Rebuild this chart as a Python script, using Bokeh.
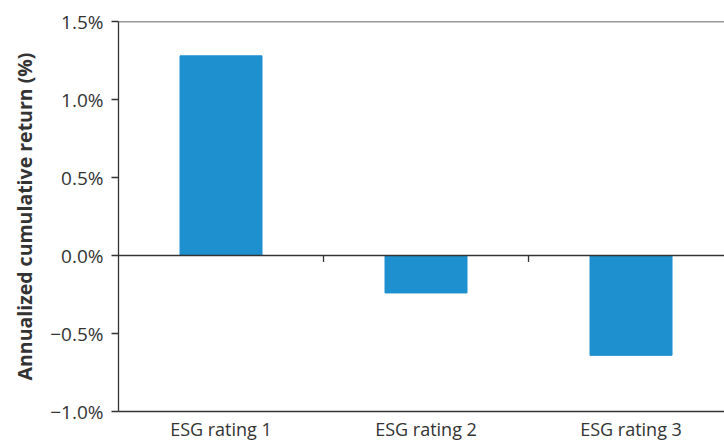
from bokeh.plotting import figure
from bokeh.models import ColumnDataSource, FixedTicker, Span
from bokeh.embed import file_html
from bokeh.resources import INLINE

categories = ["ESG rating 1", "ESG rating 2", "ESG rating 3"]
returns = [1.28, -0.24, -0.64]
y_ticks = [-1.0, -0.5, 0.0, 0.5, 1.0, 1.5]
y_tick_labels = ["\u22121.0%", "\u22120.5%", "0.0%", "0.5%", "1.0%", "1.5%"]

centers = [i + 0.5 for i in range(len(categories))]
boundaries = [i + 1 for i in range(len(categories) - 1)]

TEXT = "#333333"
FONT = "Open Sans"

p = figure(frame_width=606, frame_height=390, output_backend="svg", toolbar_location=None,
           x_range=(0, 2.956), y_range=(-1.0, 1.5),
           min_border_left=118, min_border_right=0, min_border_top=21, min_border_bottom=0)
p.outline_line_color = None
p.xgrid.visible = False
p.ygrid.visible = False
p.background_fill_color = "white"
p.border_fill_color = "white"

src = ColumnDataSource(dict(x=centers, top=returns, cat=categories))
p.vbar(x="x", top="top", bottom=0, width=0.4, source=src,
       fill_color="#1e8fcf", line_color="#1e8fcf")

# zero line with ticks at category boundaries
p.add_layout(Span(location=0, dimension="width", line_color=TEXT, line_width=1.3))
p.segment(x0=boundaries, x1=boundaries, y0=[0]*len(boundaries), y1=[-0.042]*len(boundaries),
          line_color=TEXT, line_width=1.3)
p.add_layout(Span(location=1.5, dimension="width", line_color=TEXT, line_width=1.3))

# y axis
ya = p.yaxis[0]
ya.ticker = FixedTicker(ticks=y_ticks)
ya.major_label_overrides = {t: l for t, l in zip(y_ticks, y_tick_labels)}
ya.axis_label = "Annualized cumulative return (%)"
ya.axis_label_text_font = FONT
ya.axis_label_text_font_style = "bold"
ya.axis_label_text_font_size = "19.5px"
ya.axis_label_text_color = TEXT
ya.axis_label_standoff = 9
ya.major_label_text_font = FONT
ya.major_label_text_font_size = "19px"
ya.major_label_text_color = TEXT
ya.major_label_standoff = 8
ya.axis_line_color = TEXT
ya.axis_line_width = 1.3
ya.major_tick_line_color = TEXT
ya.major_tick_line_width = 1.3
ya.major_tick_out = 7
ya.major_tick_in = 0
ya.minor_tick_line_color = None

# x axis at bottom
xa = p.xaxis[0]
xa.ticker = FixedTicker(ticks=centers)
xa.major_label_overrides = {c: n for c, n in zip(centers, categories)}
xa.major_label_text_font = FONT
xa.major_label_text_font_size = "18px"
xa.major_label_text_color = TEXT
xa.major_label_standoff = -1
xa.axis_line_color = TEXT
xa.axis_line_width = 1.3
xa.major_tick_line_color = None
xa.minor_tick_line_color = None

open("out.html", "w").write(file_html(p, INLINE))
